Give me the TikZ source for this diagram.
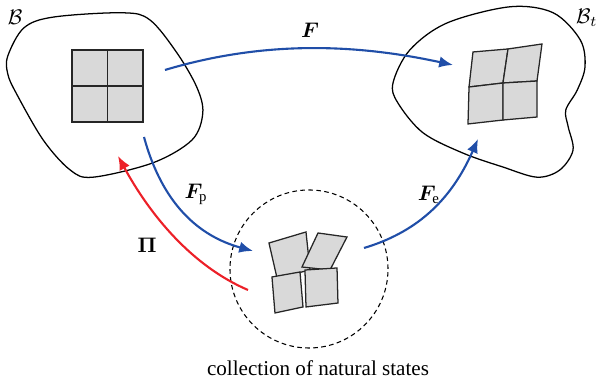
\documentclass[tikz,border=0pt]{standalone}
\usepackage{amsmath, amssymb, bm}
\usepackage{fontspec}
\setmainfont{Liberation Serif}
\usepackage{tikz}
\usetikzlibrary{arrows.meta, calc}
\usepackage{xcolor}
\definecolor{mapblue}{RGB}{32,78,168}
\definecolor{mapred}{RGB}{236,32,40}
\tikzset{
  body/.style={line width=0.6pt},
  cell/.style={draw=black!85, fill=black!15, line width=0.6pt},
  map/.style={line width=1pt, draw=mapblue, ->},
  proj/.style={line width=1pt, draw=mapred, ->},
}

\begin{document}
\begin{tikzpicture}[>={Latex[length=2.3mm,width=1.9mm]}]
  \useasboundingbox (0,0) rectangle (9.95,6.383);

  % reference body
  \draw[body] plot[smooth cycle, tension=0.55] coordinates {(0.13,5.45) (0.4,5.92) (0.9,6.1) (2.05,6.17)
    (2.5,6.05) (2.95,5.5) (3.28,4.93) (3.38,4.5) (3.2,4.05) (2.55,3.67) (1.55,3.43)
    (1.17,3.55) (0.72,4.05) (0.27,4.83) (0.13,5.15)};
  \node (B) at (0.25,6.1) {$\mathcal{B}$};

  % current body
  \draw[body] plot[smooth cycle, tension=0.55] coordinates {(6.55,5.0) (6.83,5.55) (7.45,6.0) (8.5,6.27)
    (9.22,6.17) (9.67,5.72) (9.75,5.27) (9.62,4.88) (9.43,4.55) (9.47,4.27) (9.55,3.88)
    (9.33,3.55) (8.95,3.43) (8.38,3.6) (7.72,3.83) (7.05,4.17) (6.63,4.67)};
  \node (Bt) at (9.78,6.08) {$\mathcal{B}_t$};

  % undeformed grid
  \foreach \i in {0,1} {
    \foreach \j in {0,1} {
      \draw[cell] (1.2+0.5915*\i,4.35+0.6*\j) rectangle ++(0.5915,0.6);
    }
  }

  % deformed grid
  \coordinate (TL) at (7.883,5.517);
  \coordinate (TM) at (8.467,5.567);
  \coordinate (TR) at (9.033,5.65);
  \coordinate (ML) at (7.817,4.933);
  \coordinate (C)  at (8.383,5.0);
  \coordinate (MR) at (8.95,5.033);
  \coordinate (BL) at (7.8,4.317);
  \coordinate (BM) at (8.383,4.383);
  \coordinate (BR) at (8.95,4.433);
  \draw[cell] (TL) -- (TM) -- (C) -- (ML) -- cycle;
  \draw[cell] (TM) -- (TR) -- (MR) -- (C) -- cycle;
  \draw[cell] (ML) -- (C) -- (BM) -- (BL) -- cycle;
  \draw[cell] (C) -- (MR) -- (BR) -- (BM) -- cycle;

  % natural states
  \draw[dashed, dash pattern=on 2.2pt off 1.6pt, line width=0.5pt] (5.15,1.9) circle (1.317);
  \draw[cell] (4.483,2.333) -- (5.1,2.517) -- (5.167,1.883) -- (4.617,1.75) -- cycle;
  \draw[cell] (5.3,2.5) -- (5.783,2.433) -- (5.5,1.883) -- (5.033,1.933) -- cycle;
  \draw[cell] (4.533,1.767) -- (5.0,1.85) -- (5.05,1.267) -- (4.583,1.167) -- cycle;
  \draw[cell] (5.083,1.883) -- (5.617,1.917) -- (5.633,1.333) -- (5.1,1.267) -- cycle;
  \node (nat) at (5.3,0.25) {collection of natural states};

  % maps
  \coordinate (Fs) at (2.75,5.217);
  \coordinate (Ft) at (7.55,5.3);
  \draw[map] (Fs) .. controls (4.3,5.68) and (5.8,5.68) .. (Ft);
  \node (Flab) at (5.167,5.883) {$\bm{F}$};

  \coordinate (Fps) at (2.4,4.1);
  \coordinate (Fpt) at (4.217,2.2);
  \draw[map] (Fps) .. controls (2.7,3.0) and (3.3,2.45) .. (Fpt);
  \node (Fplab) at (3.27,3.14) {$\bm{F}_{\mathrm{p}}$};

  \coordinate (Fes) at (6.067,2.25);
  \coordinate (Fet) at (7.967,4.067);
  \draw[map] (Fes) .. controls (6.9,2.5) and (7.5,3.0) .. (Fet);
  \node (Felab) at (7.15,3.13) {$\bm{F}_{\mathrm{e}}$};

  \coordinate (Ps) at (4.133,1.55);
  \coordinate (Pt) at (1.967,3.783);
  \draw[proj] (Ps) .. controls (3.2,1.95) and (2.5,2.8) .. (Pt);
  \node (Plab) at (2.45,2.3) {$\bm{\Pi}$};
\end{tikzpicture}
\end{document}
